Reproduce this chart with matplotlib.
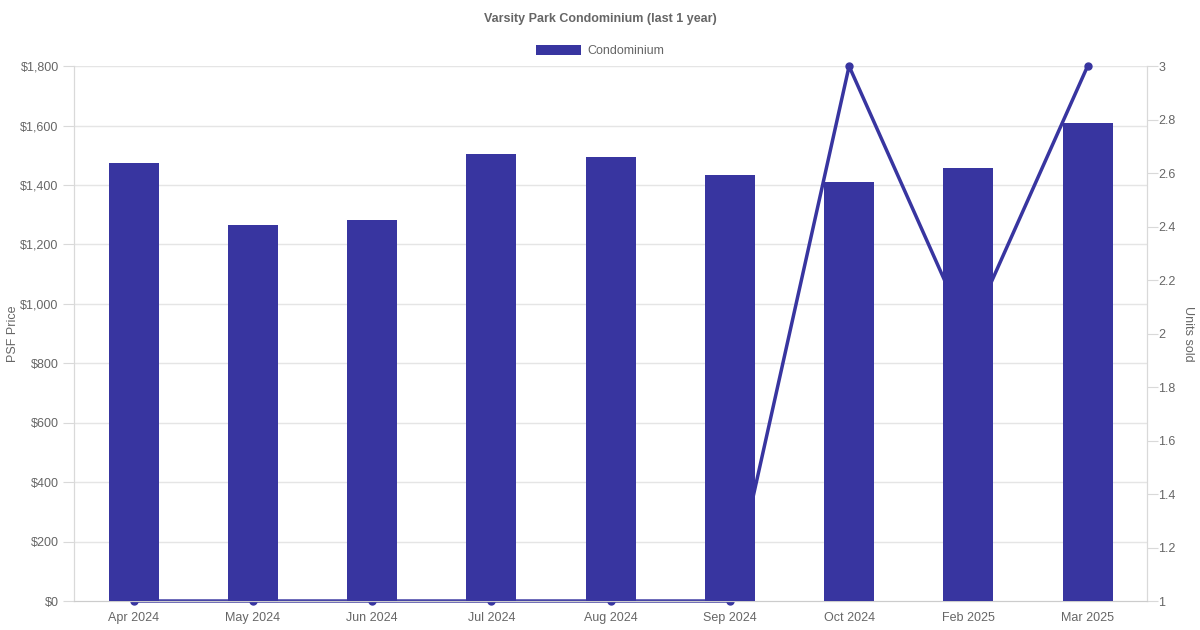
import matplotlib
matplotlib.use("Agg")
import matplotlib.pyplot as plt
from matplotlib.lines import Line2D
from matplotlib.transforms import blended_transform_factory
import numpy as np

plt.rcParams['font.family'] = ['Liberation Sans', 'DejaVu Sans']

months = ['Apr 2024', 'May 2024', 'Jun 2024', 'Jul 2024', 'Aug 2024',
          'Sep 2024', 'Oct 2024', 'Feb 2025', 'Mar 2025']
psf = [1474, 1265, 1282, 1504, 1494, 1433, 1410, 1457, 1608]
units = [1, 1, 1, 1, 1, 1, 3, 2, 3]

col = '#3835a0'
txt = '#666666'
grid = '#e5e5e5'

fig = plt.figure(figsize=(12, 6.3), dpi=100)
ax = fig.add_axes([0.0617, 0.046, 0.8943, 0.849])
ax2 = ax.twinx()

x = np.arange(len(months))
yt = np.arange(0, 1801, 200)

# gridlines of the left axis, put on ax2 so the line sits above them
tr = blended_transform_factory(ax.transAxes, ax.transData)
for v in yt[1:]:
    ax2.add_line(Line2D([0, 1], [v, v], transform=tr, color=grid, lw=1, zorder=0))

# line on the right axis, drawn behind the bars
ax2.plot(x, units, color=col, lw=2.5, marker='o', ms=5, clip_on=False, zorder=2)
ax2.set_ylim(1, 3)
ax2.set_yticks(np.arange(1, 3.01, 0.2))
ax2.set_yticklabels(['1', '1.2', '1.4', '1.6', '1.8', '2', '2.2', '2.4', '2.6', '2.8', '3'])
ax2.set_ylabel('Units sold', color=txt, fontsize=9, rotation=270, labelpad=13)

ax.set_zorder(ax2.get_zorder() + 1)
ax.patch.set_visible(False)

ax.bar(x, psf, width=0.42, color=col, zorder=3, label='Condominium')
ax.set_xlim(-0.5, len(months) - 0.5)
ax.set_ylim(0, 1800)
ax.set_yticks(yt)
ax.set_yticklabels(['$' + format(v, ',') for v in yt])
ax.set_xticks(x)
ax.set_xticklabels(months)
ax.set_ylabel('PSF Price', color=txt, fontsize=9, labelpad=1)

for a in (ax, ax2):
    for s in a.spines.values():
        s.set_color('#d9d9d9')
    a.spines['top'].set_visible(False)
    a.tick_params(colors=txt, labelsize=9, length=0, pad=8)
ax.tick_params(axis='y', length=8, color='#d9d9d9', pad=3)
ax2.tick_params(axis='y', length=8, color='#d9d9d9', pad=0)
ax.spines['bottom'].set_color('#cccccc')

fig.suptitle('Varsity Park Condominium (last 1 year)', y=0.98, fontsize=9,
             fontweight='bold', color=txt)
fig.legend(loc='center', bbox_to_anchor=(0.5, 0.919), frameon=False,
           fontsize=9, labelcolor=txt, handlelength=3.6, handleheight=0.9,
           handletextpad=0.5)

fig.savefig('out.png', dpi=100)
